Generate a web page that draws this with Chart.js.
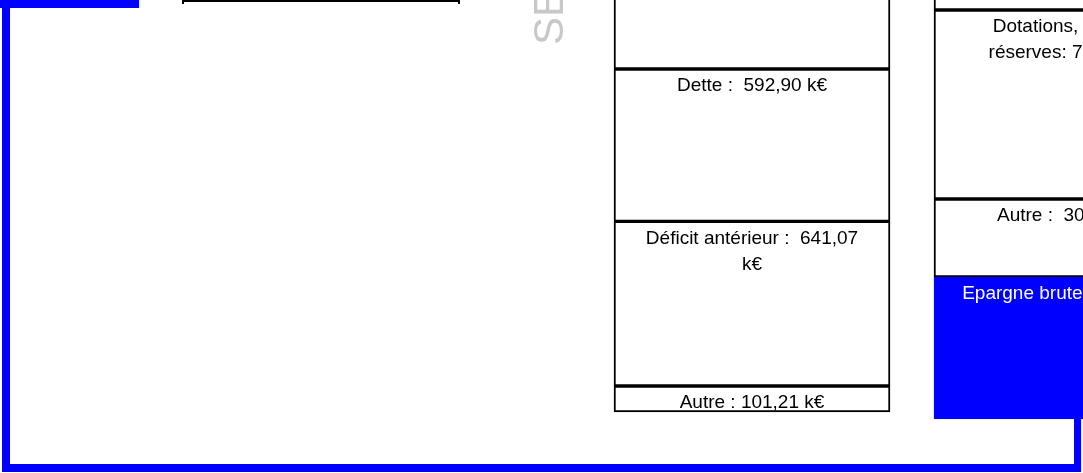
<!DOCTYPE html>
<html lang="fr">
<head>
<meta charset="utf-8">
<title>Section d'investissement</title>
<script src="https://cdn.jsdelivr.net/npm/chart.js@4/dist/chart.umd.min.js"></script>
<style>
    html, body { margin: 0; padding: 0; background: #ffffff; }
    #graphe { display: block; }
</style>
</head>
<body>
<canvas id="graphe" width="1083" height="473"></canvas>
<script>
/* =============================================================
   Balance de la section — emplois / ressources (colonnes empilées)
   ============================================================= */

/* Position des deux colonnes sur l'axe x */
var colonnes = [1, 2];

/* Emplois (du bas vers le haut) */
var emploisNoms    = ['Autre : ', 'Déficit antérieur :  ', 'Dette :  ', ''];
var emploisValeurs = [101.21, 641.07, 592.90, 500];
var emploisDepart  = 0;

/* Ressources (du bas vers le haut) */
var ressourcesNoms    = ['Epargne brute : ', 'Autre :  ', 'Dotations, fonds et réserves: ', ''];
var ressourcesValeurs = [552.70, 303.60, 735.70, 500];
var ressourcesDepart  = -27.2;

var BLEU = '#0000ff';
var POLICE = '"Liberation Sans", Arial, sans-serif';

function formatKE(v) {
    return v.toFixed(2).replace('.', ',') + ' k€';
}

/* Construction des couches : une couche = un segment de chaque colonne */
var couches = [];
(function () {
    var bE = emploisDepart, bR = ressourcesDepart;
    for (var i = 0; i < emploisValeurs.length; i++) {
        var bleu = (i === 0);
        couches.push({
            label: 'Couche ' + (i + 1),
            data: [
                { x: colonnes[0], y: [bE, bE + emploisValeurs[i]] },
                { x: colonnes[1], y: [bR, bR + ressourcesValeurs[i]] }
            ],
            textes: [
                emploisNoms[i] ? emploisNoms[i] + formatKE(emploisValeurs[i]) : '',
                ressourcesNoms[i] ? ressourcesNoms[i] + formatKE(ressourcesValeurs[i]) : ''
            ],
            couleursTexte: ['#000000', bleu ? '#ffffff' : '#000000'],
            backgroundColor: ['#ffffff', bleu ? BLEU : '#ffffff'],
            borderColor: ['#000000', bleu ? BLEU : '#000000'],
            borderWidth: 2,
            borderSkipped: false
        });
        bE += emploisValeurs[i];
        bR += ressourcesValeurs[i];
    }
}());

/* Cadre bleu, filet noir et titre vertical */
var decor = {
    id: 'decor',
    beforeDatasetsDraw: function (chart) {
        var ctx = chart.ctx;
        ctx.save();
        ctx.fillStyle = BLEU;
        ctx.fillRect(0, 0, 139, 8);
        ctx.fillRect(2, 0, 8, 472);
        ctx.fillRect(2, 464, 1079, 8);
        ctx.fillRect(1074, 0, 7, 472);
        ctx.fillStyle = '#000000';
        ctx.fillRect(182, 0, 278, 2);
        ctx.fillRect(182, 0, 2, 4);
        ctx.fillRect(458, 0, 2, 4);
        ctx.translate(563, 45);
        ctx.rotate(-Math.PI / 2);
        ctx.fillStyle = '#c8c8c8';
        ctx.font = '42px ' + POLICE;
        ctx.textAlign = 'left';
        ctx.textBaseline = 'alphabetic';
        ctx.fillText('SECTION', 0, 0);
        ctx.restore();
    }
};

/* Libellés centrés en haut de chaque segment, avec retour à la ligne */
var libelles = {
    id: 'libelles',
    afterDatasetsDraw: function (chart) {
        var ctx = chart.ctx;
        ctx.save();
        ctx.font = '19px ' + POLICE;
        ctx.textAlign = 'center';
        ctx.textBaseline = 'middle';
        chart.data.datasets.forEach(function (ds, di) {
            var meta = chart.getDatasetMeta(di);
            meta.data.forEach(function (bar, j) {
                var texte = ds.textes[j];
                if (!texte) return;
                var mots = texte.split(' ');
                var lignes = [];
                var ligne = mots[0];
                for (var k = 1; k < mots.length; k++) {
                    var essai = ligne + ' ' + mots[k];
                    if (ctx.measureText(essai).width > 228 && mots[k] !== '') {
                        lignes.push(ligne);
                        ligne = mots[k];
                    } else {
                        ligne = essai;
                    }
                }
                lignes.push(ligne);
                var haut = Math.min(bar.y, bar.base);
                ctx.fillStyle = ds.couleursTexte[j];
                lignes.forEach(function (l, n) {
                    ctx.fillText(l.trim(), bar.x, haut + 17 + n * 26);
                });
            });
        });
        ctx.restore();
    }
};

new Chart(document.getElementById('graphe').getContext('2d'), {
    type: 'bar',
    data: { datasets: couches },
    options: {
        responsive: false,
        animation: false,
        devicePixelRatio: 1,
        layout: { padding: 0 },
        datasets: { bar: { grouped: false, barThickness: 276 } },
        plugins: {
            legend: { display: false },
            tooltip: { enabled: false }
        },
        scales: {
            x: { type: 'linear', display: false, offset: false, min: -1.35, max: 2.034375,
                 ticks: { stepSize: 1, includeBounds: false } },
            y: { display: false, min: -237.4, max: 1603.8 }
        }
    },
    plugins: [decor, libelles]
});
</script>
</body>
</html>
